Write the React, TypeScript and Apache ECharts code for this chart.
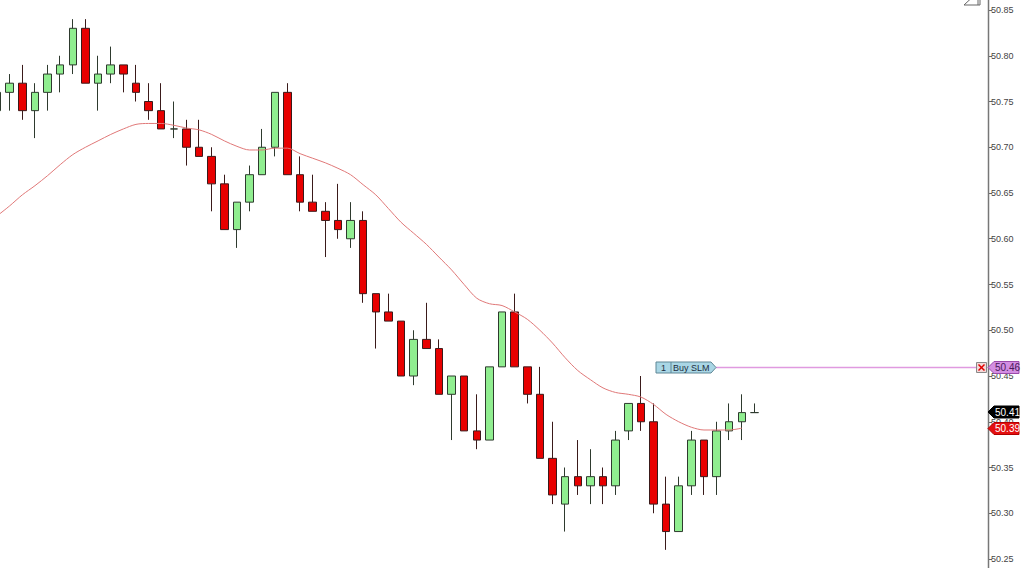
import React, { useEffect, useRef } from "react";
import * as echarts from "echarts";

// OHLC (index 0 is the partially visible candle at the left edge)
const opens = [
  50.74, 50.76, 50.77, 50.74, 50.76, 50.78, 50.79, 50.83, 50.77, 50.78,
  50.79, 50.77, 50.75, 50.74, 50.72, 50.72, 50.70, 50.69, 50.66, 50.61,
  50.64, 50.67, 50.70, 50.76, 50.67, 50.64, 50.63, 50.62, 50.60, 50.62,
  50.54, 50.52, 50.51, 50.45, 50.49, 50.48, 50.43, 50.45, 50.39, 50.38,
  50.46, 50.52, 50.46, 50.43, 50.36, 50.31, 50.34, 50.33, 50.34, 50.33,
  50.39, 50.42, 50.40, 50.31, 50.28, 50.33, 50.38, 50.34, 50.39, 50.40,
  50.41,
];
const closes = [
  50.76, 50.77, 50.74, 50.76, 50.78, 50.79, 50.83, 50.77, 50.78, 50.79,
  50.78, 50.76, 50.74, 50.72, 50.72, 50.70, 50.69, 50.66, 50.61, 50.64,
  50.67, 50.70, 50.76, 50.67, 50.64, 50.63, 50.62, 50.61, 50.62, 50.54,
  50.52, 50.51, 50.45, 50.49, 50.48, 50.43, 50.45, 50.39, 50.38, 50.46,
  50.52, 50.46, 50.43, 50.36, 50.32, 50.34, 50.33, 50.34, 50.33, 50.38,
  50.42, 50.40, 50.31, 50.28, 50.33, 50.38, 50.34, 50.39, 50.40, 50.41,
  50.41,
];
const lows = [
  50.73, 50.74, 50.73, 50.71, 50.74, 50.76, 50.78, 50.77, 50.74, 50.77,
  50.76, 50.75, 50.73, 50.72, 50.71, 50.68, 50.69, 50.63, 50.61, 50.59,
  50.63, 50.67, 50.69, 50.67, 50.63, 50.63, 50.58, 50.60, 50.59, 50.53,
  50.48, 50.51, 50.45, 50.44, 50.48, 50.43, 50.38, 50.39, 50.37, 50.38,
  50.46, 50.46, 50.42, 50.36, 50.31, 50.28, 50.32, 50.31, 50.31, 50.32,
  50.38, 50.39, 50.30, 50.26, 50.28, 50.32, 50.32, 50.32, 50.38, 50.38,
  50.41,
];
const highs = [
  50.77, 50.78, 50.79, 50.77, 50.79, 50.80, 50.84, 50.84, 50.80, 50.81,
  50.79, 50.79, 50.77, 50.77, 50.75, 50.73, 50.73, 50.70, 50.67, 50.64,
  50.68, 50.72, 50.76, 50.77, 50.69, 50.67, 50.64, 50.66, 50.64, 50.63,
  50.54, 50.54, 50.51, 50.50, 50.53, 50.49, 50.45, 50.45, 50.43, 50.46,
  50.52, 50.54, 50.46, 50.46, 50.40, 50.35, 50.38, 50.37, 50.35, 50.39,
  50.42, 50.45, 50.42, 50.34, 50.34, 50.39, 50.38, 50.40, 50.42, 50.43,
  50.42,
];
// moving average line
const movingAvg = [
  50.625, 50.636, 50.648, 50.658, 50.669, 50.681, 50.692, 50.700, 50.707, 50.714,
  50.720, 50.725, 50.726, 50.726, 50.724, 50.721, 50.719, 50.714, 50.707, 50.701,
  50.697, 50.697, 50.699, 50.699, 50.693, 50.688, 50.683, 50.677, 50.670, 50.659,
  50.648, 50.633, 50.618, 50.606, 50.594, 50.580, 50.566, 50.550, 50.535, 50.529,
  50.527, 50.520, 50.512, 50.500, 50.486, 50.470, 50.456, 50.446, 50.437, 50.432,
  50.430, 50.427, 50.419, 50.408, 50.400, 50.394, 50.391, 50.391, 50.391, 50.393,
];

const SLOT_COUNT = 79;
const categories = Array.from({ length: SLOT_COUNT }, (_, i) => String(i));

const orderPrice = 50.46;
const orderQty = "1";
const orderText = "Buy SLM";
const lastPrice = 50.41;
const yMin = 50.25;
const yMax = 50.85;
const yStep = 0.05;

const FONT = "Liberation Sans, Arial, sans-serif";
// the chart canvas starts OFF px left of the page so the first candle can be cut by the edge
const OFF = 20;

export default function App() {
  const ref = useRef<HTMLDivElement>(null);

  useEffect(() => {
    if (!ref.current) return;
    const chart = echarts.init(ref.current, undefined, { renderer: "svg" });
    const candleData = opens.map((o, i) => [o, closes[i], lows[i], highs[i]]);

    chart.setOption({
      animation: false,
      backgroundColor: "#ffffff",
      grid: { left: OFF - 9.2, right: 36, top: 10, bottom: 9, containLabel: false },
      xAxis: {
        type: "category",
        data: categories,
        boundaryGap: true,
        show: false,
      },
      yAxis: {
        type: "value",
        position: "right",
        min: yMin,
        max: yMax,
        interval: yStep,
        scale: true,
        axisLine: { show: false },
        axisTick: { show: true, length: 4, lineStyle: { color: "#666" } },
        splitLine: { show: false },
        axisLabel: {
          margin: 3,
          fontSize: 9,
          color: "#444",
          fontFamily: FONT,
          showMinLabel: true,
          showMaxLabel: true,
          formatter: (v: number) => v.toFixed(2),
        },
      },
      series: [
        {
          type: "candlestick",
          data: candleData,
          barWidth: 8,
          itemStyle: {
            color: "#90ee90",
            color0: "#e80000",
            borderColor: "#2e3a2e",
            borderColor0: "#3a1a1a",
            borderWidth: 1,
          },
        },
        {
          type: "line",
          data: movingAvg,
          symbol: "none",
          smooth: 0.3,
          lineStyle: { color: "#e07878", width: 1 },
          z: 5,
        },
      ],
    });

    const yp = (v: number) => chart.convertToPixel({ yAxisIndex: 0 }, v) as number;
    const yo = Math.round(yp(orderPrice)) + 0.5;
    const yl = Math.round(yp(lastPrice)) - 1;
    const ym = Math.round(yp(movingAvg[movingAvg.length - 1])) + 0.5;
    const X = (x: number) => x + OFF;

    const tag = (y: number, fill: string, stroke: string, txt: string, tc: string) => [
      {
        type: "polygon",
        z: 100,
        shape: {
          points: [
            [X(988), y],
            [X(994), y - 6],
            [X(1019), y - 6],
            [X(1019), y + 6],
            [X(994), y + 6],
          ],
        },
        style: { fill, stroke, lineWidth: 1 },
      },
      {
        type: "text",
        z: 101,
        x: X(995),
        y: y,
        style: {
          text: txt,
          fill: tc,
          fontSize: 10,
          fontFamily: FONT,
          verticalAlign: "middle",
        },
      },
    ];

    chart.setOption({
      graphic: [
        {
          type: "line",
          z: 90,
          shape: { x1: X(988.5), y1: 0, x2: X(988.5), y2: 568 },
          style: { stroke: "#777", lineWidth: 1.5 },
        },
        // top-right icon
        {
          type: "polyline",
          z: 90,
          shape: { points: [[X(978), -8], [X(964), 5], [X(978), 5]] },
          style: { stroke: "#666", fill: "#fff", lineWidth: 1 },
        },
        {
          type: "rect",
          z: 90,
          shape: { x: X(978), y: -2, width: 2, height: 7 },
          style: { stroke: "#666", fill: "#fff", lineWidth: 1 },
        },
        // order line
        {
          type: "line",
          z: 90,
          shape: { x1: X(716), y1: yo, x2: X(977), y2: yo },
          style: { stroke: "#e09ae0", lineWidth: 1.5 },
        },
        {
          type: "polygon",
          z: 95,
          shape: {
            points: [
              [X(656), yo - 5.5],
              [X(711), yo - 5.5],
              [X(716), yo],
              [X(711), yo + 5.5],
              [X(656), yo + 5.5],
            ],
          },
          style: { fill: "#a9d6e5", stroke: "#5f8796", lineWidth: 1 },
        },
        {
          type: "line",
          z: 96,
          shape: { x1: X(671), y1: yo - 5.5, x2: X(671), y2: yo + 5.5 },
          style: { stroke: "#5f8796", lineWidth: 1 },
        },
        {
          type: "text",
          z: 97,
          x: X(663.5),
          y: yo,
          style: {
            text: orderQty,
            fill: "#1e2e3e",
            fontSize: 9,
            fontFamily: FONT,
            align: "center",
            verticalAlign: "middle",
          },
        },
        {
          type: "text",
          z: 97,
          x: X(673),
          y: yo,
          style: {
            text: orderText,
            fill: "#1e2e3e",
            fontSize: 9,
            fontFamily: FONT,
            verticalAlign: "middle",
          },
        },
        // cancel box
        {
          type: "rect",
          z: 95,
          shape: { x: X(976.5), y: yo - 5, width: 10, height: 10 },
          style: { fill: "#f4d8d8", stroke: "#888", lineWidth: 1 },
        },
        {
          type: "line",
          z: 96,
          shape: { x1: X(978.5), y1: yo - 3, x2: X(984.5), y2: yo + 3 },
          style: { stroke: "#e00000", lineWidth: 1.5 },
        },
        {
          type: "line",
          z: 96,
          shape: { x1: X(984.5), y1: yo - 3, x2: X(978.5), y2: yo + 3 },
          style: { stroke: "#e00000", lineWidth: 1.5 },
        },
        ...tag(yo, "#d38ee2", "#9a4aaa", orderPrice.toFixed(2), "#4a1a5a"),
        ...tag(yl, "#000000", "#000000", lastPrice.toFixed(2), "#ffffff"),
        ...tag(ym, "#e41010", "#b00000", movingAvg[movingAvg.length - 1].toFixed(2), "#ffffff"),
      ],
    });

    return () => chart.dispose();
  }, []);

  return (
    <div
      ref={ref}
      style={{
        position: "fixed",
        left: -OFF,
        top: 0,
        width: 1024 + OFF,
        height: 568,
        background: "#fff",
      }}
    />
  );
}
